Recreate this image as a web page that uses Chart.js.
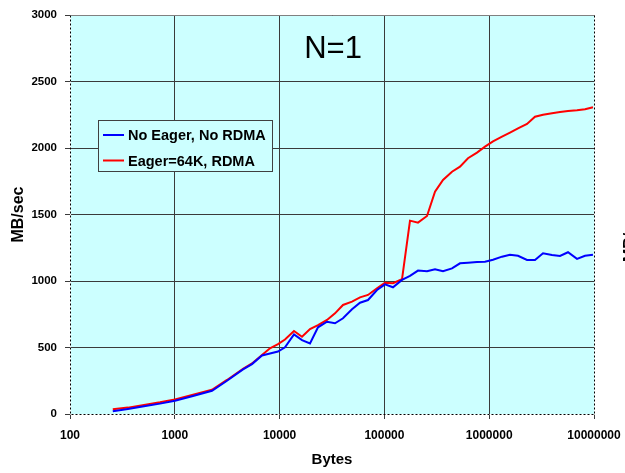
<!DOCTYPE html>
<html>
<head>
<meta charset="utf-8">
<script src="https://cdn.jsdelivr.net/npm/chart.js@4.4.1/dist/chart.umd.min.js"></script>
<style>
  html, body { margin: 0; padding: 0; background: #ffffff; }
  #wrap { width: 625px; height: 473px; }
</style>
</head>
<body>
<div id="wrap"><canvas id="bwChart" width="625" height="473"></canvas></div>
<script>
// message sizes (bytes)
var bytes = [256, 357, 508, 722, 1004, 1492, 2264, 3148, 4476, 5453, 6792, 8096, 9654,
  11260, 13720, 16360, 19500, 23250, 28340, 33790, 40270, 49080, 58520, 69750, 85000,
  101300, 120800, 147200, 175500, 209200, 255000, 304000, 362400, 441600, 526500,
  627600, 764800, 912000, 1087000, 1325000, 1579000, 1883000, 2295000, 2735000,
  3262000, 3974000, 4738000, 5648000, 6884000, 8206000, 9782000];

// MB/sec, no eager / no RDMA
var noEager = [20, 38, 58, 78, 100, 135, 175, 250, 335, 375, 440, 455, 470,
  501, 599, 556, 531, 652, 694, 682, 720, 787, 837, 857, 932,
  975, 953, 1008, 1038, 1078, 1073, 1088, 1073, 1095, 1133,
  1138, 1143, 1145, 1160, 1183, 1198, 1190, 1158, 1158,
  1208, 1196, 1188, 1216, 1166, 1190, 1198];

// MB/sec, eager=64K with RDMA
var eager64 = [35, 48, 68, 88, 110, 145, 182, 256, 340, 380, 444, 494, 525,
  560, 624, 581, 639, 669, 707, 757, 820, 845, 877, 895, 945,
  987, 983, 1013, 1454, 1439, 1489, 1672, 1760, 1822, 1860,
  1923, 1965, 2010, 2050, 2085, 2116, 2148, 2181, 2235,
  2250, 2262, 2270, 2278, 2284, 2291, 2306];

var xTicks = [100, 1000, 10000, 100000, 1000000, 10000000];
var seriesNames = ['No Eager, No RDMA', 'Eager=64K, RDMA'];
var seriesColors = ['#0000ff', '#ff0000'];

function pts(ys) {
  return ys.map(function (y, i) { return { x: bytes[i], y: y }; });
}

var gridCol = '#3a3a3a';
var fam = 'Arial, "Liberation Sans", sans-serif';

// cyan plot background
var plotBg = {
  id: 'plotBg',
  beforeDraw: function (chart) {
    var a = chart.chartArea, c = chart.ctx;
    c.save();
    c.fillStyle = '#ccffff';
    c.fillRect(a.left, a.top, a.right - a.left, a.bottom - a.top);
    c.restore();
  }
};

// dotted frame, legend box, "N=1" label
var extras = {
  id: 'extras',
  afterDraw: function (chart) {
    var a = chart.chartArea, c = chart.ctx;
    var L = Math.round(a.left) + 0.5, R = Math.round(a.right) + 0.5, B = Math.round(a.bottom) + 0.5;
    var T = Math.round(a.top) + 0.5;
    c.save();
    // top border, solid gray
    c.strokeStyle = '#808080';
    c.lineWidth = 1;
    c.beginPath(); c.moveTo(L, T); c.lineTo(R, T); c.stroke();
    // dotted left / bottom / right
    c.strokeStyle = '#ffffff';
    c.beginPath();
    c.moveTo(L, T); c.lineTo(L, B); c.lineTo(R, B); c.lineTo(R, T);
    c.stroke();
    c.strokeStyle = '#000000';
    c.setLineDash([2, 2]);
    c.stroke();
    c.setLineDash([]);

    // title inside plot
    c.fillStyle = '#000000';
    c.font = '31px ' + fam;
    c.textAlign = 'center';
    c.textBaseline = 'middle';
    c.fillText('N=1', 333, 49);

    // legend
    var bx = 98.5, by = 120.5, bw = 174, bh = 51;
    c.fillStyle = '#ccffff';
    c.fillRect(bx, by, bw, bh);
    c.strokeStyle = '#404040';
    c.lineWidth = 1;
    c.strokeRect(bx, by, bw, bh);
    c.font = 'bold 14.5px ' + fam;
    c.textAlign = 'left';
    chart.data.datasets.forEach(function (ds, i) {
      var ly = 135 + i * 25.5;
      c.strokeStyle = ds.borderColor;
      c.lineWidth = 2;
      c.beginPath(); c.moveTo(103, ly); c.lineTo(124, ly); c.stroke();
      c.fillStyle = '#000000';
      c.fillText(ds.label, 128, ly + 1);
    });

    // clipped axis title of the neighbouring chart at the right edge
    c.translate(631, 234);
    c.rotate(-Math.PI / 2);
    c.font = 'bold 16px ' + fam;
    c.textAlign = 'center';
    c.fillText('MB/sec', 0, 0);
    c.restore();
  }
};

var ctx = document.getElementById('bwChart').getContext('2d');
var bwChart = new Chart(ctx, {
  type: 'line',
  data: {
    datasets: [{
      label: seriesNames[0],
      data: pts(noEager),
      borderColor: seriesColors[0],
      borderWidth: 2,
      pointRadius: 0,
      tension: 0,
      fill: false
    }, {
      label: seriesNames[1],
      data: pts(eager64),
      borderColor: seriesColors[1],
      borderWidth: 2,
      pointRadius: 0,
      tension: 0,
      fill: false
    }]
  },
  options: {
    responsive: false,
    animation: false,
    layout: { padding: { left: 0, right: 31, top: 15, bottom: 0 } },
    plugins: {
      legend: { display: false },
      tooltip: { enabled: false }
    },
    scales: {
      x: {
        type: 'logarithmic',
        min: 100,
        max: 10000000,
        afterBuildTicks: function (scale) {
          scale.ticks = xTicks.map(function (v) { return { value: v }; });
        },
        afterFit: function (scale) {
          scale.height = 59;
          scale.paddingLeft = 0;
          scale.paddingRight = 0;
        },
        border: { display: false },
        grid: { color: gridCol, lineWidth: 1, tickLength: 5 },
        ticks: {
          autoSkip: false,
          maxRotation: 0,
          padding: 9,
          color: '#000000',
          font: { family: fam, size: 12, weight: 'bold' },
          callback: function (v) { return String(v); }
        },
        title: {
          display: true,
          text: 'Bytes',
          color: '#000000',
          padding: { top: 0, bottom: 4 },
          font: { family: fam, size: 15, weight: 'bold' }
        }
      },
      y: {
        min: 0,
        max: 3000,
        afterFit: function (scale) {
          scale.width = 70;
          scale.paddingTop = 0;
          scale.paddingBottom = 0;
        },
        border: { display: false },
        grid: { color: gridCol, lineWidth: 1, tickLength: 5 },
        ticks: {
          stepSize: 500,
          padding: 8,
          color: '#000000',
          font: { family: fam, size: 11.5, weight: 'bold' },
          callback: function (v) { return String(v); }
        },
        title: {
          display: true,
          text: 'MB/sec',
          color: '#000000',
          padding: { top: 9, bottom: 0 },
          font: { family: fam, size: 16, weight: 'bold' }
        }
      }
    }
  },
  plugins: [plotBg, extras]
});
</script>
</body>
</html>
